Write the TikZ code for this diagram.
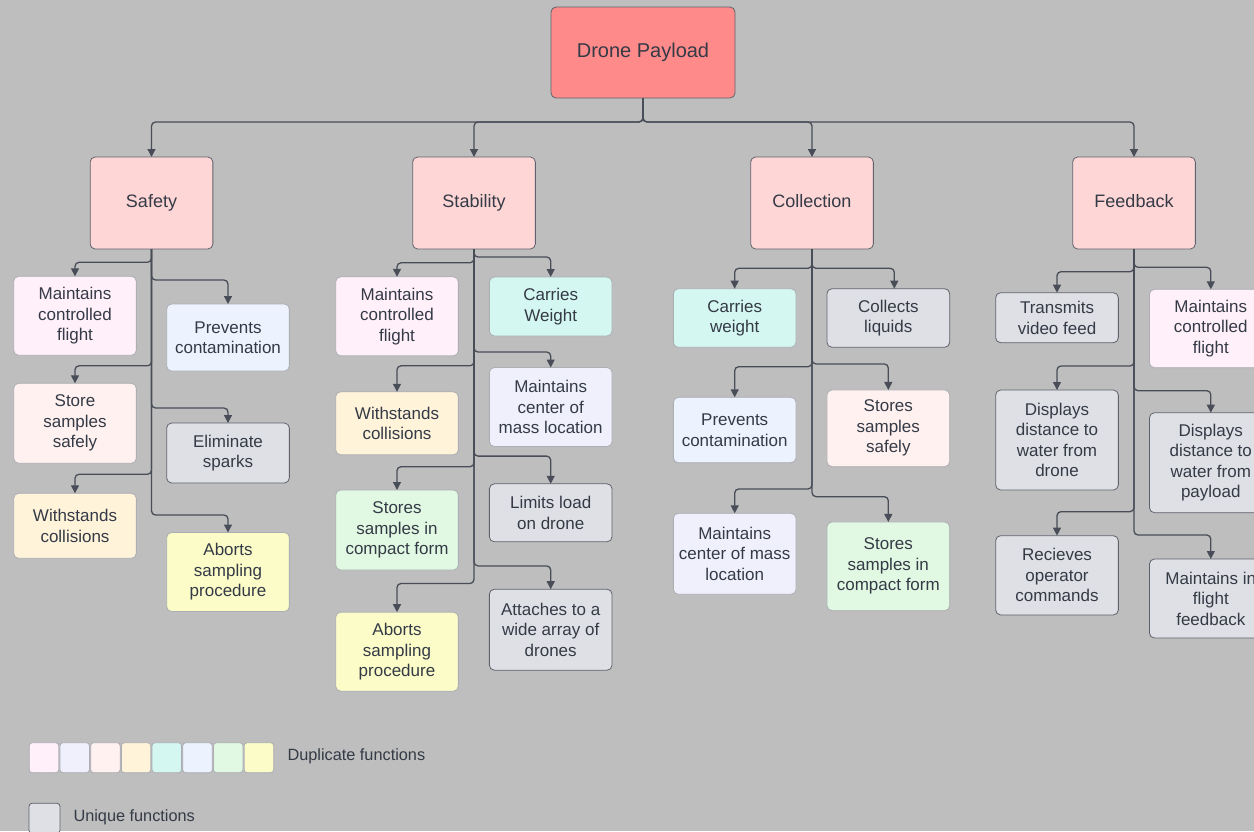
\documentclass[tikz,border=0pt]{standalone}
\usepackage{fontspec}
\setmainfont{Liberation Sans}
\usetikzlibrary{arrows.meta,calc}

% palette
\definecolor{bg}{RGB}{190,190,190}
\definecolor{txt}{RGB}{52,58,70}
\definecolor{wire}{RGB}{72,77,88}
\definecolor{rootfill}{RGB}{255,138,138}
\definecolor{catfill}{RGB}{255,214,214}
\definecolor{darkline}{RGB}{95,98,108}
\definecolor{dupline}{RGB}{172,174,180}
\definecolor{cpink}{RGB}{255,240,250}
\definecolor{clav}{RGB}{240,240,253}
\definecolor{crose}{RGB}{254,241,239}
\definecolor{ccream}{RGB}{255,243,218}
\definecolor{cmint}{RGB}{212,247,241}
\definecolor{cblue}{RGB}{236,243,254}
\definecolor{cgreen}{RGB}{225,248,226}
\definecolor{cyellow}{RGB}{252,252,200}
\definecolor{cuniq}{RGB}{222,224,229}

\tikzset{
  box/.style={rectangle, rounded corners=5pt, line width=0.8pt, align=center,
    text=txt, inner sep=2pt, outer sep=0pt, minimum width=122.7pt,
    font=\fontsize{17}{20.5}\selectfont},
  dup/.style={box, draw=dupline},
  uniq/.style={box, draw=darkline, fill=cuniq},
  catbox/.style={box, draw=darkline, fill=catfill, minimum height=92pt,
    text height=13pt, text depth=4pt, font=\fontsize{18}{22}\selectfont},
  rootbox/.style={box, draw=darkline, fill=rootfill, minimum width=184pt,
    minimum height=91pt, text height=14.5pt, text depth=4.5pt,
    font=\fontsize{20}{24}\selectfont},
  conn/.style={draw=wire, line width=1.3pt, rounded corners=4pt,
    -{Triangle[length=8pt,width=8pt]}},
  chip/.style={rectangle, rounded corners=3pt, draw=dupline, line width=0.8pt,
    minimum width=29.5pt, minimum height=30pt, inner sep=0pt, outer sep=0pt},
  legtext/.style={text=txt, anchor=west, inner sep=0pt,
    font=\fontsize{16.3}{19}\selectfont}
}

\begin{document}
\begin{tikzpicture}[x=1pt,y=-1pt]
\useasboundingbox (0,0) rectangle (1254,831);
\clip (0,0) rectangle (1254,831);
\fill[bg] (0,0) rectangle (1254,831);

% root and the four function groups
\node[rootbox] (root) at (643,52.5) {Drone Payload};
\node[catbox] (sf) at (151.5,203) {Safety};
\node[catbox] (st) at (474,203) {Stability};
\node[catbox] (co) at (812,203) {Collection};
\node[catbox] (fb) at (1134,203) {Feedback};

\foreach \c in {sf,st,co,fb}
  \draw[conn] (root.south) |- ($(\c.north)+(0,-35)$) -- (\c.north);

% Safety
\node[dup, fill=cpink,  minimum height=79pt] (sf1) at (75,315.8) {Maintains\\controlled\\flight};
\node[dup, fill=cblue,  minimum height=67pt] (sf2) at (228,337.5) {Prevents\\contamination};
\node[dup, fill=crose,  minimum height=80pt] (sf3) at (75,423.3) {Store\\samples\\safely};
\node[uniq,             minimum height=60pt] (sf4) at (228,453) {Eliminate\\sparks};
\node[dup, fill=ccream, minimum height=65pt] (sf5) at (75,525.8) {Withstands\\collisions};
\node[dup, fill=cyellow,minimum height=79pt] (sf6) at (228,572) {Aborts\\sampling\\procedure};

\draw[conn] (sf.south) |- ($(sf1.north)+(0,-14)$) -- (sf1.north);
\draw[conn] (sf.south) |- ($(sf2.north)+(0,-24)$) -- (sf2.north);
\draw[conn] (sf.south) |- ($(sf3.north)+(0,-17.5)$) -- (sf3.north);
\draw[conn] (sf.south) |- ($(sf4.north)+(0,-15)$) -- (sf4.north);
\draw[conn] (sf.south) |- ($(sf5.north)+(0,-19)$) -- (sf5.north);
\draw[conn] (sf.south) |- ($(sf6.north)+(0,-17.5)$) -- (sf6.north);

% Stability
\node[dup, fill=cpink,  minimum height=79pt] (st1) at (397,316.3) {Maintains\\controlled\\flight};
\node[dup, fill=cmint,  minimum height=59pt] (st2) at (550.7,306.5) {Carries\\Weight};
\node[dup, fill=clav,   minimum height=79pt] (st3) at (550.7,407) {Maintains\\center of\\mass location};
\node[dup, fill=ccream, minimum height=63pt] (st4) at (397,423.3) {Withstands\\collisions};
\node[uniq,             minimum height=58pt] (st5) at (550.7,512.8) {Limits load\\on drone};
\node[dup, fill=cgreen, minimum height=80pt] (st6) at (397,530) {Stores\\samples in\\compact form};
\node[uniq,             minimum height=81pt] (st7) at (550.7,629.7) {Attaches to a\\wide array of\\drones};
\node[dup, fill=cyellow,minimum height=79pt] (st8) at (397,651.7) {Aborts\\sampling\\procedure};

\draw[conn] (st.south) |- ($(st1.north)+(0,-14)$) -- (st1.north);
\draw[conn] (st.south) |- ($(st2.north)+(0,-20)$) -- (st2.north);
\draw[conn] (st.south) |- ($(st3.north)+(0,-15.5)$) -- (st3.north);
\draw[conn] (st.south) |- ($(st4.north)+(0,-26)$) -- (st4.north);
\draw[conn] (st.south) |- ($(st5.north)+(0,-27.7)$) -- (st5.north);
\draw[conn] (st.south) |- ($(st6.north)+(0,-23.3)$) -- (st6.north);
\draw[conn] (st.south) |- ($(st7.north)+(0,-23.3)$) -- (st7.north);
\draw[conn] (st.south) |- ($(st8.north)+(0,-28.7)$) -- (st8.north);

% Collection
\node[dup, fill=cmint,  minimum height=58.6pt] (co1) at (734.7,318) {Carries\\weight};
\node[uniq,             minimum height=58.6pt] (co2) at (888.3,318) {Collects\\liquids};
\node[dup, fill=cblue,  minimum height=65.4pt] (co3) at (734.7,430) {Prevents\\contamination};
\node[dup, fill=crose,  minimum height=76.7pt] (co4) at (888.3,428.3) {Stores\\samples\\safely};
\node[dup, fill=clav,   minimum height=81pt]   (co5) at (734.7,553.8) {Maintains\\center of mass\\location};
\node[dup, fill=cgreen, minimum height=88.7pt] (co6) at (888.3,566.3) {Stores\\samples in\\compact form};

\draw[conn] (co.south) |- ($(co1.north)+(0,-20.4)$) -- (co1.north);
\draw[conn] (co.south) |- ($(co2.north)+(6,-20.4)$) -- ($(co2.north)+(6,0)$);
\draw[conn] (co.south) |- ($(co3.north)+(0,-30.6)$) -- (co3.north);
\draw[conn] (co.south) |- ($(co4.north)+(0,-26)$) -- (co4.north);
\draw[conn] (co.south) |- ($(co5.north)+(0,-24.3)$) -- (co5.north);
\draw[conn] (co.south) |- ($(co6.north)+(0,-25.3)$) -- (co6.north);

% Feedback
\node[uniq,             minimum height=50pt]   (fb1) at (1057,317.7) {Transmits\\video feed};
\node[dup, fill=cpink,  minimum height=78.4pt] (fb2) at (1210.8,328.5) {Maintains\\controlled\\flight};
\node[uniq,             minimum height=100pt]  (fb3) at (1057,440) {Displays\\distance to\\water from\\drone};
\node[uniq,             minimum height=100pt]  (fb4) at (1210.8,462.7) {Displays\\distance to\\water from\\payload};
\node[uniq,             minimum height=79.3pt] (fb5) at (1057,575.3) {Recieves\\operator\\commands};
\node[uniq,             minimum height=79pt]   (fb6) at (1210.8,598.5) {Maintains in\\flight\\feedback};

\draw[conn] (fb.south) |- ($(fb1.north)+(0,-21)$) -- (fb1.north);
\draw[conn] (fb.south) |- ($(fb2.north)+(0,-22)$) -- (fb2.north);
\draw[conn] (fb.south) |- ($(fb3.north)+(0,-24)$) -- (fb3.north);
\draw[conn] (fb.south) |- ($(fb4.north)+(0,-22)$) -- (fb4.north);
\draw[conn] (fb.south) |- ($(fb5.north)+(0,-24)$) -- (fb5.north);
\draw[conn] (fb.south) |- ($(fb6.north)+(0,-24)$) -- (fb6.north);

% legend
\foreach \col [count=\i from 0] in {cpink,clav,crose,ccream,cmint,cblue,cgreen,cyellow}
  \node[chip, fill=\col] (chip\i) at (44+30.7*\i,757.7) {};
\node[legtext] (duplab) at (287.3,756) {Duplicate functions};
\node[chip, fill=cuniq, draw=darkline, minimum width=31pt] (uchip) at (44.5,818.3) {};
\node[legtext] (uniqlab) at (73.3,817.5) {Unique functions};
\end{tikzpicture}
\end{document}
